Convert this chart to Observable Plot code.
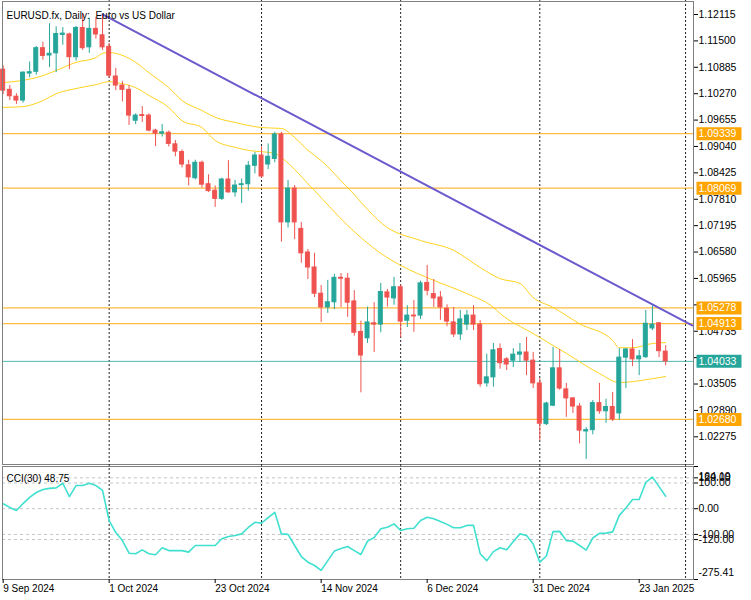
<!DOCTYPE html>
<html><head><meta charset="utf-8">
<script src="https://cdn.jsdelivr.net/npm/d3@7"></script>
<script src="https://cdn.jsdelivr.net/npm/@observablehq/plot@0.6"></script>
<style>
html,body{margin:0;padding:0;background:#fff;}
#chart{position:relative;width:751px;height:600px;overflow:hidden;background:#fff;}
#chart svg{position:absolute;left:0;}
</style></head><body><div id="chart"></div>
<script>
// ---------- data ----------
const title = "EURUSD.fx, Daily:\u00a0 Euro vs US Dollar";
const dates = ["2024-09-09","2024-09-10","2024-09-11","2024-09-12","2024-09-13",
"2024-09-16","2024-09-17","2024-09-18","2024-09-19","2024-09-20",
"2024-09-23","2024-09-24","2024-09-25","2024-09-26","2024-09-27",
"2024-09-30","2024-10-01","2024-10-02","2024-10-03","2024-10-04",
"2024-10-07","2024-10-08","2024-10-09","2024-10-10","2024-10-11",
"2024-10-14","2024-10-15","2024-10-16","2024-10-17","2024-10-18",
"2024-10-21","2024-10-22","2024-10-23","2024-10-24","2024-10-25",
"2024-10-28","2024-10-29","2024-10-30","2024-10-31","2024-11-01",
"2024-11-04","2024-11-05","2024-11-06","2024-11-07","2024-11-08",
"2024-11-11","2024-11-12","2024-11-13","2024-11-14","2024-11-15",
"2024-11-18","2024-11-19","2024-11-20","2024-11-21","2024-11-22",
"2024-11-25","2024-11-26","2024-11-27","2024-11-28","2024-11-29",
"2024-12-02","2024-12-03","2024-12-04","2024-12-05","2024-12-06",
"2024-12-09","2024-12-10","2024-12-11","2024-12-12","2024-12-13",
"2024-12-16","2024-12-17","2024-12-18","2024-12-19","2024-12-20",
"2024-12-23","2024-12-24","2024-12-26","2024-12-27",
"2024-12-30","2024-12-31","2025-01-02","2025-01-03",
"2025-01-06","2025-01-07","2025-01-08","2025-01-09","2025-01-10",
"2025-01-13","2025-01-14","2025-01-15","2025-01-16","2025-01-17",
"2025-01-20","2025-01-21","2025-01-22","2025-01-23","2025-01-24",
"2025-01-27","2025-01-28","2025-01-29"];
const futureDates = ["2025-01-30","2025-01-31","2025-02-03","2025-02-04"];

const opens = [1.1083,1.1036,1.1020,1.1011,1.1074,1.1078,1.1133,1.1116,1.1121,1.1164,
1.1165,1.1112,1.1180,1.1135,1.1178,1.1163,1.1136,1.1067,1.1046,1.1036,
1.0964,1.0977,1.0976,1.0941,1.0934,1.0936,1.0909,1.0891,1.0860,1.0830,
1.0866,1.0816,1.0801,1.0782,1.0827,1.0797,1.0814,1.0816,1.0859,1.0883,
1.0862,1.0875,1.0932,1.0727,1.0806,1.0712,1.0657,1.0622,1.0561,1.0529,
1.0541,1.0598,1.0596,1.0543,1.0472,1.0457,1.0492,1.0489,1.0564,1.0550,
1.0576,1.0498,1.0510,1.0510,1.0586,1.0560,1.0552,1.0526,1.0494,1.0466,
1.0489,1.0510,1.0489,1.0352,1.0366,1.0432,1.0408,1.0405,1.0419,1.0424,
1.0405,1.0352,1.0257,1.0300,1.0387,1.0338,1.0317,1.0298,1.0240,1.0243,
1.0306,1.0287,1.0297,1.0282,1.0412,1.0431,1.0408,1.0413,1.0480,1.0492,1.0426];
const highs = [1.1092,1.1046,1.1027,1.1078,1.1101,1.1137,1.1147,1.1190,1.1183,1.1181,
1.1168,1.1184,1.1214,1.1203,1.1205,1.1209,1.1144,1.1086,1.1055,1.1046,
1.0980,1.0997,1.0980,1.0944,1.0955,1.0940,1.0918,1.0896,1.0872,1.0872,
1.0870,1.0838,1.0812,1.0830,1.0871,1.0825,1.0828,1.0869,1.0890,1.0903,
1.0910,1.0937,1.0937,1.0825,1.0813,1.0727,1.0664,1.0655,1.0580,1.0592,
1.0606,1.0608,1.0608,1.0568,1.0497,1.0530,1.0540,1.0585,1.0571,1.0599,
1.0581,1.0533,1.0545,1.0590,1.0627,1.0594,1.0566,1.0535,1.0529,1.0522,
1.0522,1.0533,1.0498,1.0420,1.0445,1.0444,1.0412,1.0433,1.0445,1.0459,
1.0424,1.0363,1.0308,1.0436,1.0431,1.0352,1.0319,1.0305,1.0249,1.0312,
1.0352,1.0315,1.0331,1.0433,1.0433,1.0454,1.0429,1.0522,1.0533,1.0494,1.0440];
const lows = [1.1025,1.1011,1.1002,1.1005,1.1064,1.1070,1.1105,1.1088,1.1076,1.1140,
1.1083,1.1103,1.1128,1.1121,1.1154,1.1128,1.1063,1.1034,1.1008,1.0953,
1.0955,1.0960,1.0938,1.0904,1.0926,1.0903,1.0880,1.0854,1.0812,1.0826,
1.0807,1.0797,1.0762,1.0778,1.0795,1.0786,1.0771,1.0800,1.0840,1.0830,
1.0850,1.0866,1.0681,1.0714,1.0687,1.0632,1.0594,1.0552,1.0494,1.0515,
1.0524,1.0529,1.0506,1.0462,1.0330,1.0445,1.0424,1.0470,1.0530,1.0534,
1.0459,1.0482,1.0471,1.0501,1.0556,1.0529,1.0499,1.0484,1.0459,1.0452,
1.0475,1.0475,1.0343,1.0343,1.0343,1.0385,1.0382,1.0389,1.0401,1.0370,
1.0340,1.0219,1.0254,1.0298,1.0336,1.0273,1.0282,1.0211,1.0175,1.0232,
1.0280,1.0259,1.0263,1.0266,1.0340,1.0391,1.0370,1.0410,1.0475,1.0412,1.0393];
const closes = [1.1034,1.1021,1.1011,1.1076,1.1077,1.1133,1.1115,1.1120,1.1166,1.1167,
1.1112,1.1180,1.1133,1.1178,1.1165,1.1135,1.1069,1.1046,1.1036,1.0976,
1.0976,1.0975,1.0941,1.0934,1.0937,1.0910,1.0892,1.0862,1.0832,1.0866,
1.0815,1.0800,1.0782,1.0827,1.0797,1.0813,1.0816,1.0859,1.0883,1.0834,
1.0880,1.0932,1.0727,1.0806,1.0727,1.0655,1.0622,1.0561,1.0529,1.0541,
1.0598,1.0596,1.0540,1.0470,1.0417,1.0494,1.0489,1.0565,1.0552,1.0576,
1.0496,1.0510,1.0508,1.0585,1.0568,1.0550,1.0529,1.0496,1.0466,1.0501,
1.0510,1.0489,1.0350,1.0366,1.0429,1.0399,1.0396,1.0419,1.0424,1.0405,
1.0352,1.0258,1.0305,1.0387,1.0340,1.0317,1.0298,1.0242,1.0243,1.0306,
1.0287,1.0297,1.0268,1.0412,1.0431,1.0408,1.0415,1.0491,1.0489,1.0427,1.04033];

// moving averages
const ma1Dates = ["2024-09-09","2024-09-12","2024-09-17","2024-09-19","2024-09-24","2024-09-27","2024-09-30","2024-10-01","2024-10-02","2024-10-07","2024-10-09","2024-10-14","2024-10-16","2024-10-21","2024-10-23","2024-10-28","2024-10-30","2024-11-01","2024-11-06","2024-11-08","2024-11-12","2024-11-14","2024-11-20","2024-11-28","2024-12-05","2024-12-12","2024-12-18","2024-12-23","2024-12-27","2024-12-31","2025-01-06","2025-01-10","2025-01-17","2025-01-20","2025-01-22","2025-01-27","2025-01-29"];
const ma1Values = [1.1053,1.1058,1.1069,1.1081,1.1100,1.1111,1.1121,1.1123,1.1121,1.1100,1.1076,1.1041,1.1011,1.0988,1.0972,1.0960,1.0953,1.0948,1.0946,1.0925,1.0895,1.0871,1.0808,1.0715,1.0685,1.0662,1.0622,1.0596,1.0585,1.0552,1.0529,1.0491,1.0452,1.0435,1.0435,1.0445,1.0447];
const ma2Dates = ["2024-09-09","2024-09-12","2024-09-17","2024-09-19","2024-09-24","2024-09-27","2024-10-01","2024-10-02","2024-10-07","2024-10-09","2024-10-14","2024-10-16","2024-10-21","2024-10-23","2024-10-28","2024-10-30","2024-11-05","2024-11-06","2024-11-13","2024-11-20","2024-11-27","2024-12-02","2024-12-09","2024-12-16","2024-12-20","2024-12-23","2024-12-31","2025-01-08","2025-01-15","2025-01-20","2025-01-22","2025-01-27","2025-01-29"];
const ma2Values = [1.0995,1.0997,1.1011,1.1027,1.1039,1.1048,1.1055,1.1053,1.1041,1.1023,1.0995,1.0964,1.0948,1.0918,1.0902,1.0895,1.0888,1.0878,1.0801,1.0720,1.0655,1.0627,1.0592,1.0561,1.0529,1.0515,1.0468,1.0422,1.0375,1.0354,1.0356,1.0363,1.0368];

// trend line anchors
const trendDates = ["2024-09-30","2025-02-04"];
const trendValues = [1.1212, 1.0487];

// horizontal levels
const levelValues = [1.09339, 1.08069, 1.05278, 1.04913, 1.02680];
const lastPrice = 1.04033;

// axis ticks (1.05350 and 1.04120 sit under the price boxes, so only their ticks show)
const priceTicks = [1.12115,1.11500,1.10885,1.10270,1.09655,1.09040,1.08425,1.07810,1.07195,1.06580,1.05965,1.05350,1.04735,1.04120,1.03505,1.02890,1.02275];
const hiddenTickLabels = [1.05350, 1.04120];
const monthStarts = ["2024-10-01","2024-11-01","2024-12-02","2025-01-02","2025-02-03"];
const dateLabelDates = ["2024-09-09","2024-10-01","2024-10-23","2024-11-14","2024-12-06","2024-12-31","2025-01-23"];

// CCI(30)
const cciName = "CCI(30)";
const cciValues = [19,5,-7,20,44,63,75,79,81,99,
47,90,90,99,90,71,-46,-93,-124,-173,
-175,-160,-175,-179,-152,-163,-163,-163,-169,-143,
-143,-143,-143,-117,-108,-104,-98,-73,-53,-56,
-35,-14,-98,-100,-143,-186,-208,-221,-240,-202,
-165,-155,-147,-163,-178,-126,-112,-78,-72,-59,
-85,-78,-76,-46,-33,-39,-50,-61,-74,-74,
-65,-65,-175,-202,-167,-152,-160,-128,-98,-104,
-137,-208,-184,-89,-88,-124,-126,-143,-161,-114,
-96,-95,-90,-26,3,36,36,102,123,86,48.75];
const cciMax = 164.19, cciMin = -275.41;
const cciLevels = [120, 100, 0, -100, -120];

// ---------- build ----------
const FONT = "'Liberation Sans', Arial, sans-serif";
const NUM = 10.5;
const bull = "#26a69a", bear = "#ef5350";
const idxOf = new Map([...dates, ...futureDates].map((d, i) => [d, i]));
const candles = dates.map((d, i) => ({i, o: opens[i], h: highs[i], l: lows[i], c: closes[i]}));
const col = d => d.c >= d.o ? bull : bear;
const ma1 = ma1Dates.map((d, k) => ({i: idxOf.get(d), v: ma1Values[k]}));
const ma2 = ma2Dates.map((d, k) => ({i: idxOf.get(d), v: ma2Values[k]}));
const trend = trendDates.map((d, k) => ({i: idxOf.get(d), v: trendValues[k]}));
const labels = [...levelValues.map(v => ({v, c: "#FFA500"})), {v: lastPrice, c: "#26a69a"}];
const cci = cciValues.map((v, i) => ({i, v}));
const fmt5 = d3.format(".5f");
const fmtDate = d3.utcFormat("%-d %b %Y");
const xDomain = [-0.1, 104.2];
const boxSymbol = {draw(ctx, size) { ctx.rect(3, -6.5, 45, 13); }};
const style = {fontFamily: FONT, fontSize: "10px", color: "#000", background: "transparent", overflow: "visible"};

const main = Plot.plot({
  width: 751, height: 464,
  marginLeft: 2, marginRight: 58, marginTop: 1, marginBottom: 0,
  style,
  x: {domain: xDomain, axis: null},
  y: {domain: [1.0163, 1.12418], axis: null},
  marks: [
    Plot.ruleX(monthStarts, {x: d => idxOf.get(d), stroke: "#222", strokeDasharray: "2,2", insetTop: -1}),
    Plot.ruleY(levelValues, {y: d => d, stroke: "#FFA500", strokeOpacity: 0.75, strokeWidth: 1.2}),
    Plot.ruleY([lastPrice], {y: d => d, stroke: "#26a69a", strokeOpacity: 0.8}),
    Plot.line(ma1, {x: "i", y: "v", stroke: "#FFD21F", strokeWidth: 1, curve: "monotone-x"}),
    Plot.line(ma2, {x: "i", y: "v", stroke: "#FFD21F", strokeWidth: 1, curve: "monotone-x"}),
    Plot.line(trend, {x: "i", y: "v", stroke: "#6A5ACD", strokeWidth: 2}),
    Plot.ruleX(candles, {x: "i", y1: "l", y2: "h", stroke: col}),
    Plot.rect(candles, {x1: d => d.i - 0.3, x2: d => d.i + 0.3, y1: "o", y2: "c", fill: col, stroke: col, strokeWidth: 1}),
    Plot.frame({stroke: "#808080"}),
    Plot.axisY(priceTicks, {anchor: "right", tickFormat: d => hiddenTickLabels.includes(d) ? "" : fmt5(d), tickSize: 4, tickPadding: 1, label: null, fontSize: NUM}),
    Plot.dot(labels, {y: "v", frameAnchor: "right", symbol: boxSymbol, fill: d => d.c, stroke: "none"}),
    Plot.text(labels, {y: "v", text: d => fmt5(d.v), frameAnchor: "right", textAnchor: "start", dx: 5, fill: "white", fontSize: NUM}),
    Plot.text([title], {frameAnchor: "top-left", textAnchor: "start", dx: 4, dy: 10})
  ]
});

const sub = Plot.plot({
  width: 751, height: 136,
  marginLeft: 2, marginRight: 58, marginTop: 2, marginBottom: 21,
  style,
  x: {domain: xDomain, axis: null},
  y: {domain: [cciMin, cciMax], axis: null},
  marks: [
    Plot.ruleY(cciLevels, {y: d => d, stroke: "#c4c4c4", strokeDasharray: "3,3"}),
    Plot.ruleX(monthStarts, {x: d => idxOf.get(d), stroke: "#222", strokeDasharray: "2,2", insetTop: -2, insetBottom: -1}),
    Plot.line(cci, {x: "i", y: "v", stroke: "#40E0D0", strokeWidth: 1.6}),
    Plot.frame({stroke: "#808080"}),
    Plot.axisY(cciLevels, {anchor: "right", tickFormat: d => d.toFixed(2), tickSize: 4, tickPadding: 1, label: null, fontSize: NUM}),
    Plot.axisY([cciMax, cciMin], {anchor: "right", tickFormat: () => "", tickSize: 4, label: null}),
    Plot.text([cciMax], {frameAnchor: "top-right", textAnchor: "start", dx: 5, dy: 6, text: d => d.toFixed(2), fontSize: NUM}),
    Plot.text([cciMin], {frameAnchor: "bottom-right", textAnchor: "start", dx: 5, dy: -4, text: d => d.toFixed(2), fontSize: NUM}),
    Plot.text([`${cciName} ${cciValues[cciValues.length - 1]}`], {frameAnchor: "top-left", textAnchor: "start", dx: 4, dy: 8}),
    Plot.ruleX(dateLabelDates, {x: d => idxOf.get(d), stroke: "#000", insetTop: 113, insetBottom: -4}),
    Plot.text(dateLabelDates, {x: d => idxOf.get(d), text: d => fmtDate(new Date(d)), frameAnchor: "bottom", textAnchor: "start", dy: 12})
  ]
});

const root = document.getElementById("chart");
main.style.top = "0px";
sub.style.top = "464px";
root.appendChild(main);
root.appendChild(sub);
</script></body></html>
